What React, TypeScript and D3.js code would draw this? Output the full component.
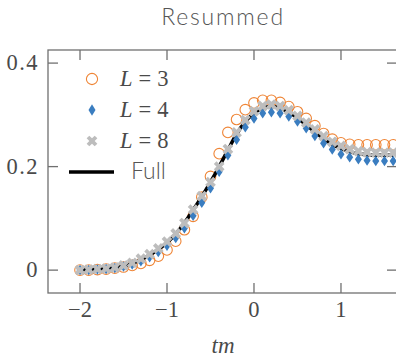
import * as d3 from 'd3';

const tm = [
  -2.0, -1.9, -1.8, -1.7, -1.6, -1.5, -1.4, -1.3, -1.2, -1.1, -1.0, -0.9, -0.8, -0.7, -0.6, -0.5, -0.4, -0.3, -0.2,
  -0.1, 0.0, 0.1, 0.2, 0.3, 0.4, 0.5, 0.6, 0.7, 0.8, 0.9, 1.0, 1.1, 1.2, 1.3, 1.4, 1.5, 1.6,
];

const fullValues = [
  0.0, 0.001, 0.002, 0.003, 0.005, 0.008, 0.013, 0.02, 0.029, 0.04, 0.053, 0.07, 0.091, 0.116, 0.142, 0.17, 0.2,
  0.232, 0.263, 0.287, 0.303, 0.313, 0.316, 0.313, 0.305, 0.294, 0.281, 0.267, 0.254, 0.243, 0.235, 0.229, 0.225,
  0.223, 0.222, 0.222, 0.222,
];

const l3Values = [
  0.0, 0.0, 0.001, 0.002, 0.004, 0.006, 0.009, 0.013, 0.019, 0.027, 0.039, 0.056, 0.078, 0.104, 0.141, 0.181, 0.225,
  0.266, 0.291, 0.31, 0.323, 0.328, 0.328, 0.324, 0.316, 0.306, 0.293, 0.279, 0.264, 0.253, 0.246, 0.243, 0.242,
  0.242, 0.242, 0.242, 0.242,
];

const l4Values = [
  0.0, 0.0, 0.001, 0.002, 0.004, 0.007, 0.011, 0.017, 0.025, 0.035, 0.047, 0.062, 0.081, 0.105, 0.13, 0.158, 0.19,
  0.222, 0.252, 0.276, 0.293, 0.303, 0.305, 0.303, 0.297, 0.287, 0.274, 0.259, 0.245, 0.233, 0.224, 0.218, 0.214,
  0.212, 0.211, 0.211, 0.211,
];

const l8Values = [
  0.0, 0.001, 0.002, 0.003, 0.005, 0.009, 0.014, 0.022, 0.031, 0.042, 0.055, 0.071, 0.091, 0.117, 0.143, 0.17, 0.2,
  0.234, 0.266, 0.29, 0.307, 0.317, 0.32, 0.317, 0.309, 0.298, 0.285, 0.272, 0.259, 0.248, 0.24, 0.234, 0.23, 0.228,
  0.227, 0.227, 0.227,
];

const xTicks = [-2, -1, 0, 1];
const yTicks = [0, 0.2, 0.4];
const legendLabels = ['3', '4', '8'];

const W = 396;
const H = 359;
const left = 48;
const right = 397;
const top = 50;
const bottom = 293;

const ORANGE = '#ef8536';
const BLUE = '#3a7dc0';
const GRAY = '#bdbdbd';
const AXIS = '#707070';
const TEXT = '#4a4a4a';
const SERIF = '"Liberation Serif", "DejaVu Serif", serif';
const SANS = 'Lato, "Open Sans", sans-serif';

const x = d3.scaleLinear().domain([-2.368, 1.644]).range([left, right]);
const y = d3.scaleLinear().domain([-0.0442, 0.4253]).range([bottom, top]);

const diamondPath = (w: number, h: number) => `M0,${-h / 2}L${w / 2},0L0,${h / 2}L${-w / 2},0Z`;
const crossPath = d3.symbol(d3.symbolCross, 72)() as string;

function fmt(v: number) {
  if (v === 0) return '0';
  return v < 0 ? '\u2212' + Math.abs(v) : String(v);
}

export default function App() {
  const line = d3
    .line<number>()
    .x((_, i) => x(tm[i]))
    .y((d) => y(d))
    .curve(d3.curveMonotoneX);

  const legendX = 92;
  return (
    <svg width={W} height={H} style={{ position: 'absolute', left: 0, top: 0 }}>
      <defs>
        <clipPath id="plot">
          <rect x={left} y={top} width={right - left} height={bottom - top} />
        </clipPath>
      </defs>
      <text
        x={223}
        y={25}
        textAnchor="middle"
        fontFamily={SANS}
        fontWeight={300}
        fontSize={23}
        fill="#555"
        letterSpacing={1.8}
      >
        Resummed
      </text>

      <g clipPath="url(#plot)">
        {tm.map((t, i) => (
          <circle key={'c' + i} cx={x(t)} cy={y(l3Values[i])} r={5.3} fill="none" stroke={ORANGE} strokeWidth={1.1} />
        ))}
        <path d={line(fullValues) ?? ''} fill="none" stroke="#000" strokeWidth={3.5} />
        {tm.map((t, i) => (
          <path key={'d' + i} d={diamondPath(7, 10.5)} transform={`translate(${x(t)},${y(l4Values[i])})`} fill={BLUE} />
        ))}
        {tm.map((t, i) => (
          <path key={'x' + i} d={crossPath} transform={`translate(${x(t)},${y(l8Values[i])}) rotate(45)`} fill={GRAY} />
        ))}
      </g>

      <rect x={left} y={top} width={right - left} height={bottom - top} fill="none" stroke={AXIS} strokeWidth={1.3} />
      {xTicks.map((t) => (
        <g key={'xt' + t}>
          <line x1={x(t)} x2={x(t)} y1={bottom} y2={bottom - 10} stroke={AXIS} strokeWidth={1.3} />
          <line x1={x(t)} x2={x(t)} y1={top} y2={top + 10} stroke={AXIS} strokeWidth={1.3} />
          <text x={x(t)} y={317} textAnchor="middle" fontFamily={SERIF} fontSize={22.5} fill={TEXT}>
            {fmt(t)}
          </text>
        </g>
      ))}
      {yTicks.map((t) => (
        <g key={'yt' + t}>
          <line x1={left} x2={left + 10} y1={y(t)} y2={y(t)} stroke={AXIS} strokeWidth={1.3} />
          <line x1={right - 10} x2={right} y1={y(t)} y2={y(t)} stroke={AXIS} strokeWidth={1.3} />
          <text x={39} y={y(t) + 7} textAnchor="end" fontFamily={SERIF} fontSize={22.5} fill={TEXT} letterSpacing={1.5}>
            {fmt(t)}
          </text>
        </g>
      ))}
      <text x={223} y={353} textAnchor="middle" fontFamily={SERIF} fontStyle="italic" fontSize={23} fill={TEXT}>
        tm
      </text>

      <circle cx={legendX} cy={79} r={5.6} fill="none" stroke={ORANGE} strokeWidth={1.1} />
      <path d={diamondPath(7, 11.5)} transform={`translate(${legendX},110)`} fill={BLUE} />
      <path d={crossPath} transform={`translate(${legendX},141) rotate(45)`} fill={GRAY} />
      <line x1={69} x2={114} y1={172} y2={172} stroke="#000" strokeWidth={3.5} />
      {legendLabels.map((n, i) => (
        <text key={n} x={120} y={86 + i * 31} fontFamily={SERIF} fontSize={22.5} fill={TEXT}>
          <tspan fontStyle="italic">L</tspan>
          <tspan dx={6}>=</tspan>
          <tspan dx={6}>{n}</tspan>
        </text>
      ))}
      <text x={131} y={179} fontFamily={SANS} fontWeight={300} fontSize={23} fill="#555">
        Full
      </text>
    </svg>
  );
}
